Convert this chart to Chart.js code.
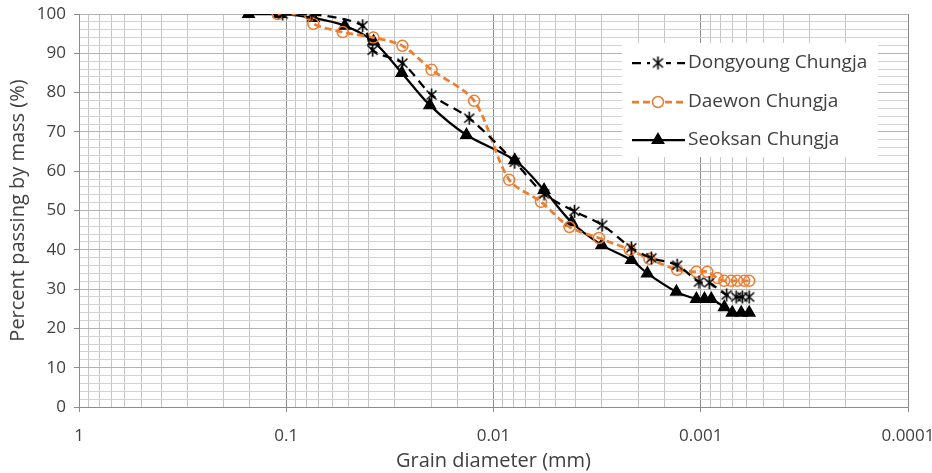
<!DOCTYPE html>
<html>
<head>
<meta charset="utf-8">
<script src="https://cdn.jsdelivr.net/npm/chart.js@4.4.1/dist/chart.umd.min.js"></script>
<style>
  html, body { margin: 0; padding: 0; background: #fff; }
  #wrap { width: 932px; height: 473px; }
</style>
</head>
<body>
<div id="wrap"><canvas id="chart" width="932" height="473"></canvas></div>
<script>
// grain size (mm) and percent passing
const dongyoungSize = [0.104, 0.0753, 0.0428, 0.0383, 0.0275, 0.0199, 0.0131, 0.0079, 0.0057, 0.00407, 0.00299, 0.00216, 0.00173, 0.0013, 0.00102, 0.00091, 0.00075, 0.000675, 0.00063, 0.000584];
const dongyoungPass = [100, 100, 97, 90.8, 87.5, 79.4, 73.5, 62.3, 54.2, 49.8, 46.3, 40.5, 37.9, 36.1, 31.8, 31.6, 28.5, 28, 28, 28];

const daewonSize = [0.11, 0.077, 0.074, 0.0534, 0.038, 0.0275, 0.0199, 0.0124, 0.0084, 0.0059, 0.0043, 0.0031, 0.0022, 0.00177, 0.0013, 0.00105, 0.00093, 0.00083, 0.00077, 0.000713, 0.000667, 0.000617, 0.000584];
const daewonPass = [100, 100, 97.5, 95.4, 94, 91.9, 85.8, 77.9, 57.8, 52.2, 45.8, 43, 40, 37.7, 34.9, 34.4, 34.4, 32.8, 32.1, 32.1, 32.1, 32.1, 32.1];

const seoksanSize = [0.152, 0.108, 0.074, 0.0522, 0.0379, 0.0277, 0.0203, 0.0135, 0.0079, 0.0057, 0.0042, 0.0030, 0.00216, 0.00181, 0.00131, 0.00105, 0.00096, 0.00089, 0.00077, 0.000705, 0.000638, 0.000584];
const seoksanPass = [100, 100, 99, 97, 93, 85, 76.8, 69.2, 62.8, 55.2, 47, 41.2, 37.4, 34, 29.3, 27.5, 27.5, 27.5, 25.4, 24, 24, 24];

const seriesNames = ['Dongyoung Chungja', 'Daewon Chungja', 'Seoksan Chungja'];
const xTickLabels = ['1', '0.1', '0.01', '0.001', '0.0001'];

const ORANGE = '#ED7D31';
const TEXT = '#404040';
const FONT = "'Open Sans', sans-serif";

function toPoints(xs, ys) {
  return xs.map((x, i) => ({ x: x, y: ys[i] }));
}

function isDecade(v) {
  const l = Math.log10(v);
  return Math.abs(l - Math.round(l)) < 1e-6;
}

// Excel-like asterisk marker: vertical bar plus an X
function makeAsterisk() {
  const c = document.createElement('canvas');
  c.width = 15;
  c.height = 15;
  const g = c.getContext('2d');
  g.strokeStyle = '#000';
  g.lineWidth = 1.6;
  g.beginPath();
  g.moveTo(7.5, 1); g.lineTo(7.5, 14);
  g.moveTo(2.5, 3); g.lineTo(12.5, 12);
  g.moveTo(12.5, 3); g.lineTo(2.5, 12);
  g.stroke();
  return c;
}
const asterisk = makeAsterisk();

const styles = [
  { color: '#000', width: 2.25, dash: [9, 6], point: asterisk, radius: 6, fill: '#000' },
  { color: ORANGE, width: 2.75, dash: [7, 4], point: 'circle', radius: 5.5, fill: 'rgba(255,255,255,0)' },
  { color: '#000', width: 2.25, dash: [], point: 'triangle', radius: 6.5, fill: '#000' }
];

// legend drawn inside the plot, Excel style
const legendBox = {
  id: 'legendBox',
  afterDraw(chart) {
    const ctx = chart.ctx;
    const bx = 622, by = 43, bw = 256, bh = 114;
    ctx.save();
    ctx.fillStyle = '#fff';
    ctx.fillRect(bx, by, bw, bh);
    const rows = [63, 102, 140];
    styles.forEach((s, i) => {
      const y = rows[i];
      ctx.strokeStyle = s.color;
      ctx.lineWidth = s.width;
      ctx.setLineDash(s.dash);
      ctx.beginPath();
      ctx.moveTo(632, y);
      ctx.lineTo(685, y);
      ctx.stroke();
      ctx.setLineDash([]);
      if (i === 0) {
        ctx.fillStyle = '#fff';
        ctx.fillRect(650, y - 8, 16, 16);
      }
      ctx.fillStyle = s.point === 'circle' ? '#fff' : s.fill;
      ctx.lineWidth = 1.5;
      Chart.helpers.drawPoint(ctx, { pointStyle: s.point, radius: s.radius, rotation: 0, borderWidth: 1.5 }, 658, y);
      ctx.fillStyle = TEXT;
      ctx.font = '19px ' + FONT;
      ctx.textBaseline = 'middle';
      ctx.textAlign = 'left';
      ctx.fillText(seriesNames[i], 688, y);
    });
    ctx.restore();
  }
};

const datasets = [
  toPoints(dongyoungSize, dongyoungPass),
  toPoints(daewonSize, daewonPass),
  toPoints(seoksanSize, seoksanPass)
].map((pts, i) => ({
  label: seriesNames[i],
  data: pts,
  borderColor: styles[i].color,
  backgroundColor: styles[i].fill,
  borderWidth: styles[i].width,
  borderDash: styles[i].dash,
  pointStyle: styles[i].point,
  pointRadius: styles[i].radius,
  pointBorderWidth: 1.5,
  pointBorderColor: styles[i].color,
  pointBackgroundColor: styles[i].fill,
  tension: 0.3,
  fill: false
}));

new Chart(document.getElementById('chart').getContext('2d'), {
  type: 'line',
  data: { datasets: datasets },
  options: {
    responsive: false,
    animation: false,
    layout: { padding: { left: 0, right: 24, top: 14, bottom: 0 } },
    plugins: {
      legend: { display: false },
      tooltip: { enabled: false }
    },
    scales: {
      x: {
        type: 'logarithmic',
        min: 0.0001,
        max: 1,
        reverse: true,
        border: { color: '#8c8c8c' },
        grid: {
          color: c => (c.tick && isDecade(c.tick.value)) ? '#8c8c8c' : '#c4c4c4',
          tickColor: c => (c.tick && isDecade(c.tick.value)) ? '#8c8c8c' : 'rgba(0,0,0,0)',
          tickLength: 5
        },
        ticks: {
          autoSkip: false,
          maxRotation: 0,
          padding: 14,
          color: TEXT,
          font: { family: FONT, size: 17 },
          callback: v => isDecade(v) ? xTickLabels[Math.round(-Math.log10(v))] : ''
        },
        title: {
          display: true,
          text: 'Grain diameter (mm)',
          color: TEXT,
          font: { family: FONT, size: 20 },
          padding: { top: 0, bottom: 0 }
        },
        afterFit: s => { s.height = 66; s.paddingRight = 0; s.paddingLeft = 0; }
      },
      y: {
        min: 0,
        max: 100,
        border: { color: '#8c8c8c' },
        grid: {
          color: c => (c.tick && c.tick.value % 10 === 0) ? '#b4b4b4' : '#d2d2d2',
          tickColor: c => (c.tick && c.tick.value % 10 === 0) ? '#8c8c8c' : 'rgba(0,0,0,0)',
          tickLength: 5
        },
        ticks: {
          stepSize: 2,
          autoSkip: false,
          padding: 8,
          color: TEXT,
          font: { family: FONT, size: 17 },
          callback: v => v % 10 === 0 ? v : ''
        },
        title: {
          display: true,
          text: 'Percent passing by mass (%)',
          color: TEXT,
          font: { family: FONT, size: 20 },
          padding: { top: 6, bottom: 0 }
        },
        afterFit: s => { s.width = 79; s.paddingTop = 0; s.paddingBottom = 0; }
      }
    }
  },
  plugins: [legendBox]
});
</script>
</body>
</html>
